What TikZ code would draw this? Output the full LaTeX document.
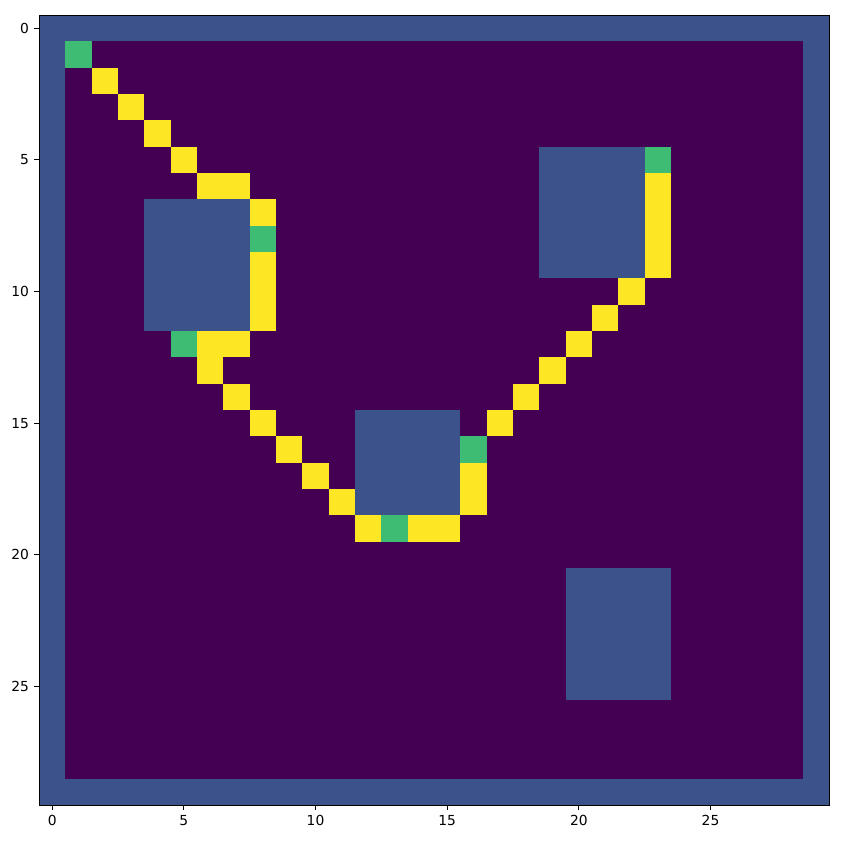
\documentclass[tikz,border=0pt]{standalone}
\usepackage{fontspec}
\setmainfont{DejaVu Sans}
\usepackage{tikz}
\definecolor{GridPurple}{HTML}{440154}
\definecolor{GridBlue}{HTML}{3B528B}
\definecolor{GridGreen}{HTML}{3FBC73}
\definecolor{GridYellow}{HTML}{FDE725}

\begin{document}
\begin{tikzpicture}[
    x=0.3mm, y=-0.3mm,
    ticklabel/.style={inner sep=0pt, font=\fontsize{11.8}{14}\selectfont},
    tickmark/.style={line width=0.7pt, black}
  ]
    \useasboundingbox (0,0) rectangle (850,844);
    \begin{scope}[shift={(39,15)}, x=7.9mm, y=-7.9mm]
      % walls and free space
      \fill[GridBlue] (0,0) rectangle (30,30);
      \fill[GridPurple] (1,1) rectangle (29,29);
      % obstacles
      \foreach \c/\r/\w/\h in {4/7/4/5, 19/5/4/5, 12/15/4/4, 20/21/4/5}
        \fill[GridBlue] (\c,\r) rectangle ++(\w,\h);
      % path
      \foreach \c/\r in {2/2, 3/3, 4/4, 5/5, 6/6, 7/6, 8/7, 8/9, 8/10, 8/11,
                         6/12, 7/12, 6/13, 7/14, 8/15, 9/16, 10/17, 11/18, 12/19,
                         14/19, 15/19, 16/18, 16/17, 17/15, 18/14, 19/13, 20/12,
                         21/11, 22/10, 23/9, 23/8, 23/7, 23/6}
        \fill[GridYellow] (\c,\r) rectangle ++(1,1);
      % waypoints
      \foreach \c/\r in {1/1, 8/8, 5/12, 13/19, 16/16, 23/5}
        \fill[GridGreen] (\c,\r) rectangle ++(1,1);
      \draw[line width=0.8pt] (0,0) rectangle (30,30);
      % ticks
      \foreach \t in {0,5,...,25} {
        \draw[tickmark] (\t+0.5,30) -- ++(0,0.185);
        \node[ticklabel, anchor=north] (xl\t) at (\t+0.5,30.37) {\t};
        \draw[tickmark] (0,\t+0.5) -- ++(-0.185,0);
        \node[ticklabel, anchor=east] (yl\t) at (-0.37,\t+0.5) {\t};
      }
    \end{scope}
  \end{tikzpicture}
\end{document}
